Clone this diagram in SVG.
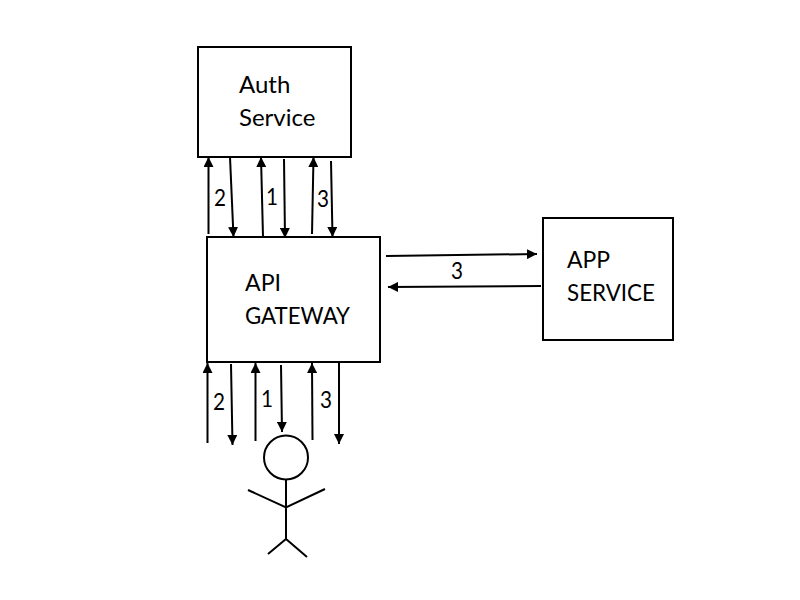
<svg xmlns="http://www.w3.org/2000/svg" width="800" height="600" viewBox="0 0 800 600">
<style>
.box{fill:#fff;stroke:#000;stroke-width:2}
.t{font-family:"Lato","Open Sans","Liberation Sans",sans-serif;font-size:24px;fill:#000}
.c{stroke:#000;stroke-width:2;fill:none;marker-end:url(#a)}
.p{stroke:#000;stroke-width:2;fill:none}
</style>
<defs><marker id="a" markerUnits="userSpaceOnUse" markerWidth="11" markerHeight="10" refX="10" refY="5" orient="auto"><path d="M0 0L10 5L0 10z" fill="#000"/></marker></defs>
<rect width="800" height="600" fill="#fff"/>
<g id="connectors">
<path class="c" d="M208.500 234V157"/><path class="c" d="M230 157L233.500 237"/>
<path class="c" d="M263 237L261 157"/><path class="c" d="M284 159L285 238"/>
<path class="c" d="M312 234L313.500 157"/><path class="c" d="M331 161L332.500 237"/>
<path class="c" d="M386 256L537 254"/><path class="c" d="M541 286L388 287"/>
<path class="c" d="M207.500 443V363"/><path class="c" d="M231 364L232.500 445"/>
<path class="c" d="M255.500 441V363"/><path class="c" d="M281 365L282 432"/>
<path class="c" d="M312.500 440L312 363"/><path class="c" d="M339 362V444"/>
</g>
<g id="auth"><rect class="box" x="198" y="47" width="153" height="110"/><text class="t" x="239" y="93">Auth</text><text class="t" x="239" y="126">Service</text></g>
<g id="gateway"><rect class="box" x="207" y="237" width="173" height="125"/><text class="t" x="245" y="291" textLength="36" lengthAdjust="spacingAndGlyphs">API</text><text class="t" x="245" y="324" textLength="105" lengthAdjust="spacingAndGlyphs">GATEWAY</text></g>
<g id="app"><rect class="box" x="543" y="218" width="130" height="122"/><text class="t" x="567" y="268" textLength="43" lengthAdjust="spacingAndGlyphs">APP</text><text class="t" x="567" y="301" textLength="88" lengthAdjust="spacingAndGlyphs">SERVICE</text></g>
<g id="labels">
<text class="t" x="214" y="206" textLength="12" lengthAdjust="spacingAndGlyphs">2</text><text class="t" x="266" y="205" textLength="12" lengthAdjust="spacingAndGlyphs">1</text><text class="t" x="317" y="207" textLength="12" lengthAdjust="spacingAndGlyphs">3</text>
<text class="t" x="451" y="279" textLength="12" lengthAdjust="spacingAndGlyphs">3</text>
<text class="t" x="213" y="410" textLength="12" lengthAdjust="spacingAndGlyphs">2</text><text class="t" x="261" y="407" textLength="12" lengthAdjust="spacingAndGlyphs">1</text><text class="t" x="320" y="408" textLength="12" lengthAdjust="spacingAndGlyphs">3</text>
</g>
<g id="user"><circle class="p" cx="286" cy="457.500" r="22"/><path class="p" d="M286 480V539M248 490L286 507.500L325 489M286 539L268 554M286 539L307 557"/></g>
</svg>
